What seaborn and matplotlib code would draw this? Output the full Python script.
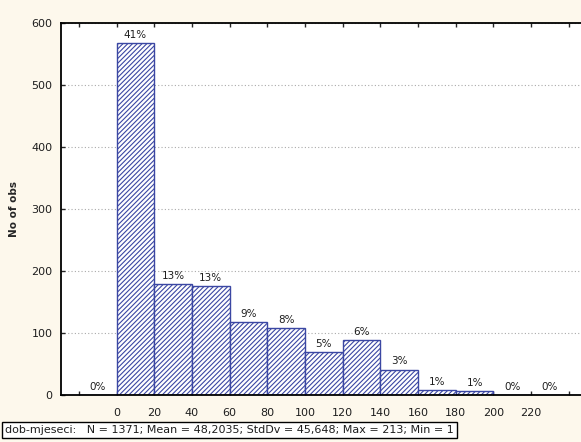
import numpy as np
import seaborn as sns
import matplotlib.pyplot as plt

# histogram of dob-mjeseci (bin edges and counts)
bin_edges = [-20, 0, 20, 40, 60, 80, 100, 120, 140, 160, 180, 200, 220, 240]
counts = [0, 567, 179, 176, 118, 108, 70, 89, 41, 8, 7, 0, 0]
pct_labels = ['0%', '41%', '13%', '13%', '9%', '8%', '5%', '6%', '3%', '1%', '1%', '0%', '0%']
x_ticks = [-20, 0, 20, 40, 60, 80, 100, 120, 140, 160, 180, 200, 220, 240]
x_tick_labels = ['', '0', '20', '40', '60', '80', '100', '120', '140', '160', '180', '200', '220', '']
y_ticks = [0, 100, 200, 300, 400, 500, 600]
summary = 'dob-mjeseci:   N = 1371; Mean = 48,2035; StdDv = 45,648; Max = 213; Min = 1'

sns.set_style('white')
plt.rcParams['font.family'] = ['DejaVu Sans']
plt.rcParams['hatch.linewidth'] = 0.8

bar_blue = '#3b47a3'
txt = '#1e1e1e'
bins_mid = [(a + b) / 2 for a, b in zip(bin_edges[:-1], bin_edges[1:])]

fig = plt.figure(figsize=(5.81, 4.42), dpi=100)
fig.patch.set_facecolor('#fdf8ec')
ax = fig.add_axes([0.105, 0.1063, 0.9, 0.8416])
ax.set_facecolor('white')

sns.histplot(x=bins_mid, weights=counts, bins=bin_edges, ax=ax,
             color=bar_blue, alpha=1, linewidth=1.0)
for p in ax.patches:
    p.set_facecolor('white')
    p.set_edgecolor(bar_blue)
    p.set_hatch('///////')

# percentage labels above the bars
for xm, c, lab in zip(bins_mid, counts, pct_labels):
    ax.text(xm, c + 5, lab, ha='center', va='bottom', fontsize=7.5, color=txt)

ax.set_xlim(-29.5, 248)
ax.set_ylim(0, 600)
ax.set_xticks(x_ticks)
ax.set_xticklabels(x_tick_labels, fontsize=8, color=txt)
ax.set_yticks(y_ticks)
ax.set_yticklabels([str(v) for v in y_ticks], fontsize=8, color=txt)
ax.tick_params(axis='y', direction='in', length=3, width=1, left=True, right=False, pad=6)
ax.tick_params(axis='x', direction='in', length=3, width=1, top=True, bottom=True, pad=9)
ax.yaxis.grid(True, linestyle=(0, (1, 2)), color='#aaaaaa', linewidth=0.8)
ax.set_axisbelow(True)

for side in ['left', 'top', 'bottom']:
    ax.spines[side].set_color('black')
    ax.spines[side].set_linewidth(1.3)
ax.spines['right'].set_visible(False)

ax.set_xlabel('')
ax.set_ylabel('No of obs', fontsize=7.5, fontweight='bold', labelpad=9)

fig.text(0.009, 0.027, summary, fontsize=8, color=txt, ha='left', va='center',
         bbox=dict(boxstyle='square,pad=0.25', facecolor='white', edgecolor='black', linewidth=1))

fig.savefig('out.png', dpi=100, facecolor=fig.get_facecolor())
